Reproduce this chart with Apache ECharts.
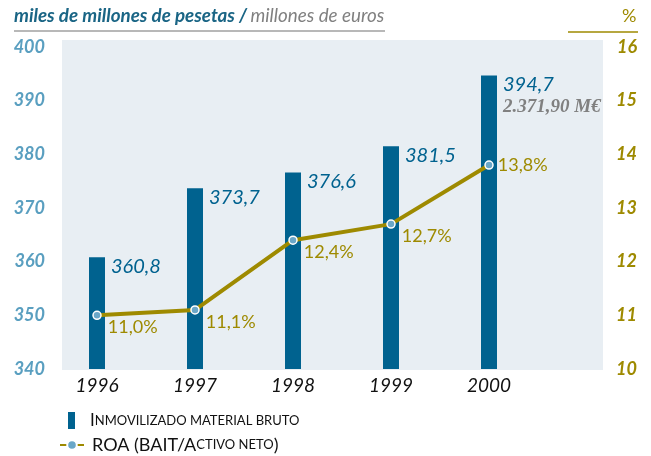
<!DOCTYPE html>
<html><head><meta charset="utf-8">
<script src="https://cdn.jsdelivr.net/npm/echarts@6/dist/echarts.min.js"></script>
<style>html,body{margin:0;padding:0;background:#fff}#c{width:651px;height:456px}</style>
</head><body><div id="c"></div>
<script>
const years = ['1996','1997','1998','1999','2000'];
const inmovilizado = [360.8, 373.7, 376.6, 381.5, 394.7];
const roa = [11.0, 11.1, 12.4, 12.7, 13.8];
const leftTicks = [340, 400, 10];   // min, max, interval
const rightTicks = [10, 16, 1];
const eurosNote = '2.371,90 M€';
const seriesNames = ['Inmovilizado material bruto', 'ROA (BAIT/Activo neto)'];

const BLUE = '#00628f', OLIVE = '#9e8a00', LBLUE = '#5a9fc0';
const fmt = v => v.toFixed(1).replace('.', ',');
const chart = echarts.init(document.getElementById('c'), null, {renderer: 'canvas'});

chart.setOption({
  animation: false,
  grid: {left: 48, right: 113, top: 47, bottom: 87},
  graphic: [
    {type: 'rect', z: -10, shape: {x: 62, y: 40, width: 541, height: 330}, style: {fill: '#e8eef3'}},
    {type: 'text', left: 14, top: 6, style: {
      text: '{a|miles de millones de pesetas /} {b|millones de euros}',
      rich: {
        a: {fontFamily: 'Lato', fontStyle: 'italic', fontWeight: 'bold', fontSize: 18.8, fill: '#1a6585'},
        b: {fontFamily: 'Lato', fontStyle: 'italic', fontWeight: 'normal', fontSize: 18.8, fill: '#808080'}
      }}},
    {type: 'line', shape: {x1: 14, y1: 31, x2: 385, y2: 31}, style: {stroke: '#a0a0a0', lineWidth: 1.5}},
    {type: 'text', left: 622, top: 7, style: {text: '%', fontFamily: 'Lato', fontSize: 18, fill: OLIVE}},
    {type: 'line', shape: {x1: 568, y1: 32, x2: 638, y2: 32}, style: {stroke: OLIVE, lineWidth: 1.5}}
  ],
  legend: [
    {left: 63, top: 407, data: [seriesNames[0]], itemWidth: 7, itemHeight: 17, icon: 'rect',
     formatter: n => '{a|I}{b|NMOVILIZADO MATERIAL BRUTO}',
     textStyle: {padding: [0, 0, 0, 10], rich: {
       a: {fontFamily: 'Lato', fontSize: 17, color: '#111'},
       b: {fontFamily: 'Lato', fontSize: 13, color: '#111'}}}},
    {left: 54, top: 431, data: [seriesNames[1]], itemWidth: 24, itemHeight: 12,
     formatter: n => '{a|ROA (BAIT/A}{b|CTIVO NETO}{a|)}',
     textStyle: {padding: [0, 0, 0, 3], rich: {
       a: {fontFamily: 'Lato', fontSize: 18, color: '#111'},
       b: {fontFamily: 'Lato', fontSize: 13, color: '#111'}}}}
  ],
  xAxis: {
    type: 'category', data: years,
    axisLine: {show: false}, axisTick: {show: false},
    axisLabel: {margin: 7, fontFamily: 'Lato', fontStyle: 'italic', fontSize: 19, color: '#111'}
  },
  yAxis: [
    {type: 'value', min: leftTicks[0], max: leftTicks[1], interval: leftTicks[2],
     splitLine: {show: false}, axisLine: {show: false}, axisTick: {show: false},
     axisLabel: {margin: 3, fontFamily: 'Lato', fontStyle: 'italic', fontWeight: 'bold', fontSize: 18, color: LBLUE}},
    {type: 'value', min: rightTicks[0], max: rightTicks[1], interval: rightTicks[2], position: 'right', offset: 99,
     splitLine: {show: false}, axisLine: {show: false}, axisTick: {show: false},
     axisLabel: {margin: 0, align: 'right', fontFamily: 'Lato', fontStyle: 'italic', fontWeight: 'bold', fontSize: 18, color: OLIVE}}
  ],
  series: [
    {name: seriesNames[0], type: 'bar', barWidth: 16, yAxisIndex: 0,
     itemStyle: {color: BLUE},
     data: inmovilizado.map((v, i) => ({
       value: v,
       label: {
         show: true, position: [22, -3], align: 'left', verticalAlign: 'top',
         formatter: i === inmovilizado.length - 1 ? '{v|' + fmt(v) + '}\n{e|' + eurosNote + '}' : '{v|' + fmt(v) + '}',
         rich: {
           v: {fontFamily: 'Lato', fontStyle: 'italic', fontSize: 20, color: BLUE, lineHeight: 24},
           e: {fontFamily: 'Liberation Serif', fontStyle: 'italic', fontWeight: 'bold', fontSize: 19, color: '#808080', lineHeight: 22}
         }
       }
     }))},
    {name: seriesNames[1], type: 'line', yAxisIndex: 1,
     lineStyle: {color: OLIVE, width: 4},
     symbol: 'circle', symbolSize: 8,
     itemStyle: {color: '#6aa7c8', borderColor: '#fff', borderWidth: 1.5},
     data: roa.map((v, i) => ({
       value: v,
       label: {
         show: true, position: 'right', distance: 4,
         offset: i === roa.length - 1 ? [0, 0] : [2, 12],
         formatter: fmt(v) + '%',
         fontFamily: 'Lato', fontSize: 18, color: OLIVE
       }
     }))}
  ]
});
</script></body></html>
